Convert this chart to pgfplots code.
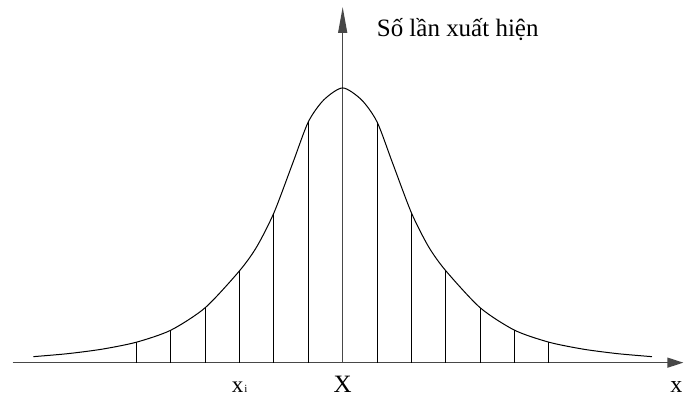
\documentclass[border=0pt]{standalone}
\usepackage{pgfplots}
\pgfplotsset{compat=1.18}
\usepackage{fontspec}
\setmainfont{Liberation Serif}
\usetikzlibrary{arrows.meta}
\begin{document}
\fontsize{24}{28}\selectfont
\begin{tikzpicture}
\begin{axis}[
 x=34.4pt, y=1pt,
 xmin=-9.6, xmax=9.913, ymin=0, ymax=356,
 axis lines=middle,
 axis line style={black!72, line width=1.3pt},
 x axis line style={-{Triangle[length=16pt,width=10pt]}},
 y axis line style={-{Triangle[length=26pt,width=9pt]}},
 xtick={-3}, xticklabels={x\hspace{1pt}\fontsize{11}{11}\selectfont i},
 ytick=\empty,
 major tick length=0pt,
 xticklabel style={anchor=base, yshift=-30pt, inner sep=0pt, font=\fontsize{23}{28}\selectfont},
 clip=false,
 xlabel={x}, ylabel={Số lần xuất hiện},
 every axis x label/.style={at={(axis cs:9.71,0)}, anchor=base, yshift=-30pt, inner sep=0pt, font=\fontsize{24}{28}\selectfont},
 every axis y label/.style={at={(axis cs:0.99,326)}, anchor=base west, inner sep=0pt, font=\fontsize{25}{28}\selectfont},
]
\addplot[black, line width=1pt, smooth, tension=0.45] coordinates {
(-9,6) (-8,9) (-7,13.5) (-6,20.5) (-5,32.5) (-4,55) (-3,92) (-2.5,116) (-2,150) (-1.45,200) (-1,241) (-0.55,263) (0,275)
(0.55,263) (1,241) (1.45,200) (2,150) (2.5,116) (3,92) (4,55) (5,32.5) (6,20.5) (7,13.5) (8,9) (9,6)};
\addplot[ycomb, black, line width=0.9pt] coordinates {
(-6,20.5) (-5,32.5) (-4,55) (-3,92) (-2,150) (-1,241) (1,241) (2,150) (3,92) (4,55) (5,32.5) (6,20.5)};
\node[anchor=base, inner sep=0pt, font=\fontsize{25}{28}\selectfont] at (axis cs:0,-30) {X};
\path (axis cs:-9.971,-35) rectangle (axis cs:9.913,363);
\end{axis}
\end{tikzpicture}
\end{document}
